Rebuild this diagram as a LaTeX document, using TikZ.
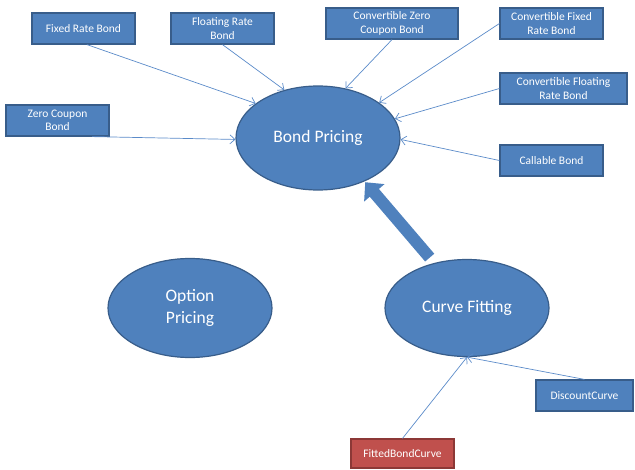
\documentclass[tikz,border=0pt]{standalone}
\usepackage{fontspec}
\setmainfont{Carlito}
\usetikzlibrary{shapes.geometric,arrows.meta}
\definecolor{boxfill}{HTML}{4F81BD}
\definecolor{boxline}{HTML}{385D8A}
\definecolor{linkcol}{HTML}{5B8BC9}
\definecolor{redfill}{HTML}{C0504D}
\definecolor{redline}{HTML}{8C3836}
\begin{document}
\begin{tikzpicture}[x=1pt,y=-1pt,
	bond/.style={draw=boxline, fill=boxfill, line width=1.2pt, text=white, align=center,
		minimum height=31pt, inner sep=1pt, font=\fontsize{11.5}{13.5}\selectfont},
	curvebox/.style={bond, draw=redline, fill=redfill},
	blob/.style={ellipse, draw=boxline, fill=boxfill, line width=1.2pt, text=white, align=center,
		minimum width=164pt, inner sep=0pt, font=\fontsize{17.5}{22}\selectfont},
	link/.style={draw=linkcol, line width=0.7pt, -{Straight Barb[length=5pt,width=9pt]}},
	bigarrow/.style={draw=boxfill, line width=12pt, -{Triangle[length=14pt,width=26pt]}}]
	
	\useasboundingbox (0,0) rectangle (635,469);
	
	% Pricing and fitting engines
	\node[blob, minimum height=104pt] at (318,138) (bp) {Bond Pricing};
	\node[blob, minimum height=99pt] at (190,308) (op) {Option\\Pricing};
	\node[blob, minimum height=97pt] at (467,308) (cf) {Curve Fitting};
	
	% Bond types
	\node[bond, minimum width=103pt] at (83.5,28.5) (frb) {Fixed Rate Bond};
	\node[bond, minimum width=103pt] at (222.5,28.5) (flrb) {Floating Rate\\Bond};
	\node[bond, minimum width=103pt] at (57.5,120.5) (zcb) {Zero Coupon\\Bond};
	\node[bond, minimum width=132pt] at (392,23.5) (czcb) {Convertible Zero\\Coupon Bond};
	\node[bond, minimum width=103pt] at (551.5,23.5) (cfrb) {Convertible Fixed\\Rate Bond};
	\node[bond, minimum width=127pt] at (563.5,88.5) (cflrb) {Convertible Floating\\Rate Bond};
	\node[bond, minimum width=103pt] at (551.5,160.5) (cb) {Callable Bond};
	
	% Curves
	\node[bond, minimum width=97pt] at (584.5,395.5) (dc) {DiscountCurve};
	\node[curvebox, minimum width=103pt, minimum height=29pt] at (402.5,453.5) (fbc) {FittedBondCurve};
	
	% Bonds into pricing
	\draw[link] (frb.-78) -- (bp.151);
	\draw[link] (flrb.south) -- (bp.125);
	\draw[link] (zcb.-25) -- (bp.181);
	\draw[link] (czcb.south) -- (bp.61);
	\draw[link] (cfrb.west) -- (bp.30);
	\draw[link] (cflrb.west) -- (bp.14);
	\draw[link] (cb.west) -- (bp.-1);
	
	% Curves into fitting
	\draw[link] (dc.north) -- (cf.south);
	\draw[link] (fbc.north) -- (cf.south);
	
	% Fitting feeds pricing
	\draw[bigarrow, shorten <=7pt, shorten >=1pt] (cf.126) -- (bp.-43);
	
\end{tikzpicture}
\end{document}
